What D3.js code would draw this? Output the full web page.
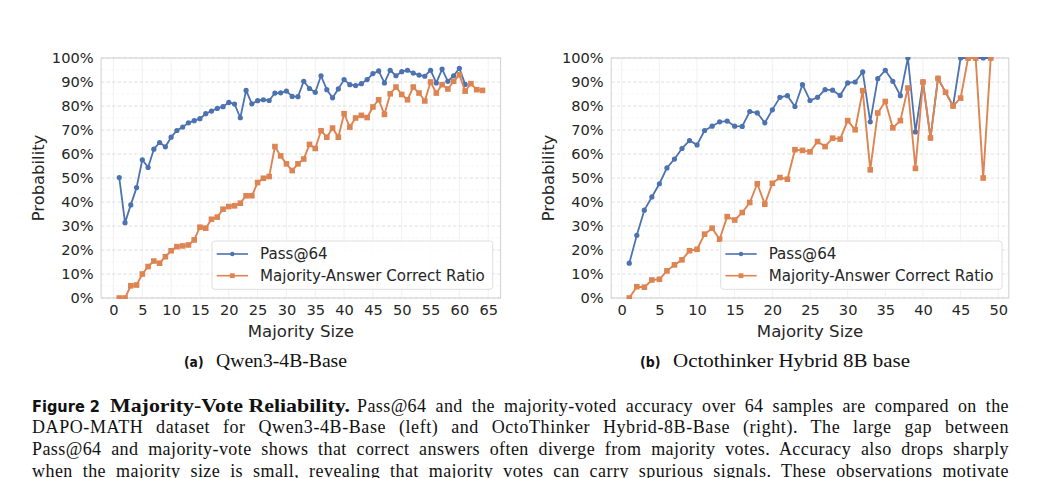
<!DOCTYPE html>
<html><head><meta charset="utf-8">
<script src="https://cdn.jsdelivr.net/npm/d3@7"></script>
<style>
html,body{margin:0;padding:0;background:#fff;}
svg{display:block;}
</style></head>
<body>
<svg id="chart" width="1041" height="478"></svg>
<script>
// ---------------- DATA ----------------
const sizesA = [1,2,3,4,5,6,7,8,9,10,11,12,13,14,15,16,17,18,19,20,21,22,23,24,25,26,27,28,29,30,31,32,33,34,35,36,37,38,39,40,41,42,43,44,45,46,47,48,49,50,51,52,53,54,55,56,57,58,59,60,61,62,63,64];
const passA = [50.2,31.4,38.8,46.0,57.6,54.4,62.0,64.8,63.0,67.0,69.8,71.2,73.0,73.9,74.7,76.8,77.9,79.0,79.7,81.5,80.8,75.1,86.5,80.9,82.2,82.6,82.3,85.4,85.5,86.2,84.0,83.9,90.3,87.3,85.7,92.6,86.8,83.4,87.1,91.0,88.9,88.5,89.3,91.0,93.5,94.6,89.6,94.9,92.6,94.3,94.9,93.7,92.9,92.4,94.9,89.6,95.4,90.3,92.6,95.7,89.0];
const majA = [0,0,5.1,5.4,10.0,13.1,15.4,14.5,17.2,19.7,21.4,21.7,22.1,24.2,29.5,29.1,32.8,33.7,37.0,38.1,38.4,39.5,42.6,42.6,48.1,49.9,50.6,63.1,59.2,55.9,53.1,55.9,57.9,64.0,62.3,69.7,67.0,70.8,67.0,76.8,71.2,75.0,76.1,75.2,79.6,82.6,76.5,85.1,87.9,84.8,82.6,87.9,85.4,82.1,90.0,85.4,88.9,87.1,90.3,93.0,86.2,89.3,86.8,86.5];

const sizesB = [1,2,3,4,5,6,7,8,9,10,11,12,13,14,15,16,17,18,19,20,21,22,23,24,25,26,27,28,29,30,31,32,33,34,35,36,37,38,39,40,41,42,43,44,45,46,47,48,49];
const passB = [14.5,26.1,36.6,42.1,47.6,54.2,57.9,62.3,65.6,63.8,69.8,71.6,73.4,73.7,71.6,71.5,77.7,77.1,73.0,78.4,83.6,84.3,79.8,88.9,82.3,83.6,86.8,86.6,84.4,89.6,90.0,94.2,73.4,91.4,94.9,90.3,84.3,100,69.2,90.0,66.7,91.5,85.7,80.0,100,100,100,100,100];
const majB = [0,4.7,4.5,7.5,7.8,11.3,13.8,15.9,19.7,20.3,26.6,29.1,24.5,33.9,32.5,35.6,39.8,47.6,39.1,47.8,50.2,49.5,61.8,61.5,60.9,65.2,63.1,66.6,66.2,73.9,70.1,86.4,53.4,77.1,81.9,70.9,73.9,87.5,54.0,90.0,66.7,91.5,85.7,80.0,83.3,100,100,50.0,100];

const xTicksA = [0,5,10,15,20,25,30,35,40,45,50,55,60,65];
const xTicksB = [0,5,10,15,20,25,30,35,40,45,50];
const yTicks = [0,10,20,30,40,50,60,70,80,90,100];
const yMinor = [5,15,25,35,45,55,65,75,85,95];
const seriesNames = ["Pass@64","Majority-Answer Correct Ratio"];
const xLabel = "Majority Size";
const yLabel = "Probability";
const subA = ["(a)","Qwen3-4B-Base"];
const subB = ["(b)","Octothinker Hybrid 8B base"];
const capHead = ["Figure 2","Majority-Vote Reliability."];
const capLines = [
 "Pass@64 and the majority-voted accuracy over 64 samples are compared on the",
 "DAPO-MATH dataset for Qwen3-4B-Base (left) and OctoThinker Hybrid-8B-Base (right). The large gap between",
 "Pass@64 and majority-vote shows that correct answers often diverge from majority votes. Accuracy also drops sharply",
 "when the majority size is small, revealing that majority votes can carry spurious signals. These observations motivate"
];

// ---------------- STYLE ----------------
const BLUE = "#4c72b0", ORANGE = "#dd8452", TXT = "#262626";
const SANS = "'DejaVu Sans', sans-serif";
const SERIF = "'Liberation Serif', 'DejaVu Serif', serif";

const svg = d3.select("#chart");
svg.append("rect").attr("width",1041).attr("height",478).attr("fill","#fff");

function panel(cfg){
  const {id, xs, pass, maj, xDomain, xRange, xTicks, yLabelX, legend, sub} = cfg;
  const x = d3.scaleLinear().domain(xDomain).range(xRange);
  const y = d3.scaleLinear().domain([0,100]).range([298,58]);
  const g = svg.append("g");
  const clipId = "clip"+id;
  svg.append("defs").append("clipPath").attr("id",clipId)
    .append("rect").attr("x",xRange[0]).attr("y",57).attr("width",xRange[1]-xRange[0]).attr("height",242);

  g.append("g").selectAll("line").data(xTicks).join("line")
    .attr("x1",d=>x(d)).attr("x2",d=>x(d)).attr("y1",y(0)).attr("y2",y(100))
    .attr("stroke","#eeeeee").attr("stroke-width",0.8);
  g.append("g").selectAll("line").data(yMinor).join("line")
    .attr("x1",xRange[0]).attr("x2",xRange[1]).attr("y1",d=>y(d)).attr("y2",d=>y(d))
    .attr("stroke","#f2f2f2").attr("stroke-width",0.8).attr("stroke-dasharray","3,2");
  g.append("g").selectAll("line").data(yTicks).join("line")
    .attr("x1",xRange[0]).attr("x2",xRange[1]).attr("y1",d=>y(d)).attr("y2",d=>y(d))
    .attr("stroke","#dddddd").attr("stroke-width",0.9).attr("stroke-dasharray","3.5,2");

  g.append("rect").attr("x",xRange[0]).attr("y",y(100)).attr("width",xRange[1]-xRange[0]).attr("height",y(0)-y(100))
    .attr("fill","none").attr("stroke","#d0d0d0").attr("stroke-width",1);

  const yAxis = d3.axisLeft(y).tickValues(yTicks).tickFormat(d=>d+"%").tickSize(0).tickPadding(7.5);
  const ya = g.append("g").attr("transform",`translate(${xRange[0]},0)`).call(yAxis);
  ya.select(".domain").remove();
  ya.selectAll("text").attr("font-family",SANS).attr("font-size",14.6).attr("fill",TXT);

  const xAxis = d3.axisBottom(x).tickValues(xTicks).tickSize(0).tickPadding(7);
  const xa = g.append("g").attr("transform",`translate(0,${y(0)})`).call(xAxis);
  xa.select(".domain").remove();
  xa.selectAll("text").attr("font-family",SANS).attr("font-size",14.6).attr("fill",TXT);

  g.append("text").attr("x",(xRange[0]+xRange[1])/2).attr("y",336.5).attr("text-anchor","middle")
    .attr("font-family",SANS).attr("font-size",16.6).attr("fill",TXT).text(xLabel);
  g.append("text").attr("transform",`translate(${yLabelX},178) rotate(-90)`).attr("text-anchor","middle")
    .attr("font-family",SANS).attr("font-size",16.4).attr("fill",TXT).text(yLabel);

  const data = (vals)=>vals.map((v,i)=>({x:xs[i],y:v}));
  const line = d3.line().x(d=>x(d.x)).y(d=>y(d.y));
  const sg = g.append("g").attr("clip-path",`url(#${clipId})`);
  const pd = data(pass), md = data(maj);
  sg.append("path").datum(pd).attr("d",line).attr("fill","none").attr("stroke",BLUE).attr("stroke-width",1.8).attr("stroke-linejoin","round");
  sg.append("g").selectAll("circle").data(pd).join("circle")
    .attr("cx",d=>x(d.x)).attr("cy",d=>y(d.y)).attr("r",2.6).attr("fill",BLUE);
  sg.append("path").datum(md).attr("d",line).attr("fill","none").attr("stroke",ORANGE).attr("stroke-width",1.9).attr("stroke-linejoin","round");
  sg.append("g").selectAll("rect").data(md).join("rect")
    .attr("x",d=>x(d.x)-2.8).attr("y",d=>y(d.y)-2.8).attr("width",5.6).attr("height",5.6).attr("fill",ORANGE);

  const L = legend;
  const lg = g.append("g");
  lg.append("rect").attr("x",L.x0).attr("y",241).attr("width",L.x1-L.x0).attr("height",48.3).attr("rx",3)
    .attr("fill","#fff").attr("fill-opacity",0.85).attr("stroke","#dcdcdc").attr("stroke-width",0.9);
  const rows = [{n:seriesNames[0],c:BLUE,m:"c",y:254},{n:seriesNames[1],c:ORANGE,m:"s",y:275.7}];
  rows.forEach(r=>{
    lg.append("line").attr("x1",L.x0+4.7).attr("x2",L.x0+36).attr("y1",r.y).attr("y2",r.y).attr("stroke",r.c).attr("stroke-width",1.6);
    if(r.m==="c") lg.append("circle").attr("cx",L.x0+20.3).attr("cy",r.y).attr("r",2.2).attr("fill",r.c);
    else lg.append("rect").attr("x",L.x0+20.3-2.4).attr("y",r.y-2.4).attr("width",4.8).attr("height",4.8).attr("fill",r.c);
    lg.append("text").attr("x",L.x0+48).attr("y",r.y+5.3).attr("font-family",SANS).attr("font-size",15.1).attr("fill",TXT).text(r.n);
  });

  g.append("text").attr("x",sub.x0).attr("y",367).attr("font-family",SANS).attr("font-weight","bold")
    .attr("font-size",14).attr("fill","#111").attr("textLength",sub.w0).attr("lengthAdjust","spacingAndGlyphs").text(sub.t[0]);
  g.append("text").attr("x",sub.x1).attr("y",367).attr("font-family",SERIF)
    .attr("font-size",18.5).attr("fill","#111").attr("textLength",sub.w).attr("lengthAdjust","spacingAndGlyphs").text(sub.t[1]);
}

panel({id:"A", xs:sizesA, pass:passA, maj:majA, xDomain:[-2.15,67.15], xRange:[101.1,500.6], xTicks:xTicksA,
  yLabelX:44, legend:{x0:212,x1:492.7}, sub:{t:subA,x0:184,x1:216,w0:19.5,w:131}});
panel({id:"B", xs:sizesB, pass:passB, maj:majB, xDomain:[-1.4,51.4], xRange:[611.2,1008.8], xTicks:xTicksB,
  yLabelX:554, legend:{x0:720.7,x1:1002}, sub:{t:subB,x0:640,x1:673,w0:20.5,w:237}});

// ---------------- CAPTION ----------------
const cap = svg.append("g").attr("fill","#111");
cap.append("text").attr("x",32).attr("y",411.7).attr("font-family",SANS).attr("font-weight","bold")
  .attr("font-size",15).attr("textLength",68).attr("lengthAdjust","spacingAndGlyphs").text(capHead[0]);
cap.append("text").attr("x",110).attr("y",411.7).attr("font-family",SERIF).attr("font-weight","bold")
  .attr("font-size",19).attr("textLength",240).attr("lengthAdjust","spacingAndGlyphs").text(capHead[1]);

function justified(str, x0, x1, yb){
  const t = cap.append("text").attr("x",x0).attr("y",yb).attr("font-family",SERIF).attr("font-size",18).text(str);
  const w = t.node().getComputedTextLength();
  const extra = (x1-x0) - w;
  const nSp = (str.match(/ /g)||[]).length;
  const nCh = str.length;
  if(extra>0){
    t.attr("word-spacing", (extra*0.6/nSp).toFixed(3));
    t.attr("letter-spacing", (extra*0.4/nCh).toFixed(3));
  }
  t.attr("textLength", x1-x0).attr("lengthAdjust","spacing");
}
justified(capLines[0], 357, 1009, 411.7);
justified(capLines[1], 32, 1009, 433.4);
justified(capLines[2], 32, 1009, 455);
justified(capLines[3], 32, 1009, 476.5);
</script>
</body></html>
